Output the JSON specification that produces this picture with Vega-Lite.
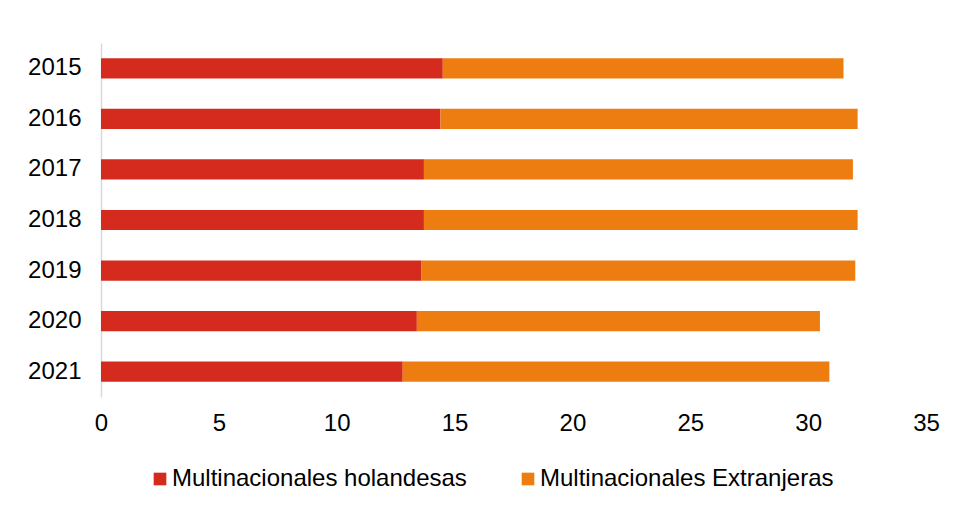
{
  "$schema": "https://vega.github.io/schema/vega-lite/v6.json",
  "width": 825,
  "height": 354,
  "autosize": {"type": "none"},
  "padding": {"left": 101, "top": 43, "right": 31, "bottom": 112},
  "background": "white",
  "config": {"view": {"stroke": null}, "font": "Liberation Sans"},
  "data": {
    "values": [
      {"year": "2015", "serie": "Multinacionales holandesas", "orden": 1, "value": 14.5},
      {"year": "2015", "serie": "Multinacionales Extranjeras", "orden": 2, "value": 17.0},
      {"year": "2016", "serie": "Multinacionales holandesas", "orden": 1, "value": 14.4},
      {"year": "2016", "serie": "Multinacionales Extranjeras", "orden": 2, "value": 17.7},
      {"year": "2017", "serie": "Multinacionales holandesas", "orden": 1, "value": 13.7},
      {"year": "2017", "serie": "Multinacionales Extranjeras", "orden": 2, "value": 18.2},
      {"year": "2018", "serie": "Multinacionales holandesas", "orden": 1, "value": 13.7},
      {"year": "2018", "serie": "Multinacionales Extranjeras", "orden": 2, "value": 18.4},
      {"year": "2019", "serie": "Multinacionales holandesas", "orden": 1, "value": 13.6},
      {"year": "2019", "serie": "Multinacionales Extranjeras", "orden": 2, "value": 18.4},
      {"year": "2020", "serie": "Multinacionales holandesas", "orden": 1, "value": 13.4},
      {"year": "2020", "serie": "Multinacionales Extranjeras", "orden": 2, "value": 17.1},
      {"year": "2021", "serie": "Multinacionales holandesas", "orden": 1, "value": 12.8},
      {"year": "2021", "serie": "Multinacionales Extranjeras", "orden": 2, "value": 18.1}
    ]
  },
  "mark": {"type": "bar"},
  "encoding": {
    "y": {
      "field": "year",
      "type": "ordinal",
      "scale": {"paddingInner": 0.6, "paddingOuter": 0.3},
      "axis": {"title": null, "ticks": false, "domainColor": "#d9d9d9", "domainWidth": 1.5, "labelFontSize": 24, "labelColor": "#000000", "labelPadding": 20, "grid": false}
    },
    "x": {
      "field": "value",
      "type": "quantitative",
      "stack": "zero",
      "scale": {"domain": [0, 35], "nice": false},
      "axis": {"values": [0, 5, 10, 15, 20, 25, 30, 35], "title": null, "domain": false, "ticks": false, "grid": false, "labelFlush": false, "labelFontSize": 24, "labelColor": "#000000", "labelPadding": 14}
    },
    "color": {
      "field": "serie",
      "type": "nominal",
      "sort": ["Multinacionales holandesas", "Multinacionales Extranjeras"],
      "scale": {"domain": ["Multinacionales holandesas", "Multinacionales Extranjeras"], "range": ["#D52B1F", "#EE7D11"]},
      "legend": {
        "title": null,
        "orient": "none",
        "legendX": 47,
        "legendY": 424,
        "direction": "horizontal",
        "symbolType": "square",
        "symbolSize": 160,
        "symbolStrokeWidth": 0,
        "labelFontSize": 24,
        "labelColor": "#000000",
        "labelOffset": 0,
        "columnPadding": 49,
        "labelLimit": 400
      }
    },
    "order": {"field": "orden", "type": "quantitative"}
  }
}
